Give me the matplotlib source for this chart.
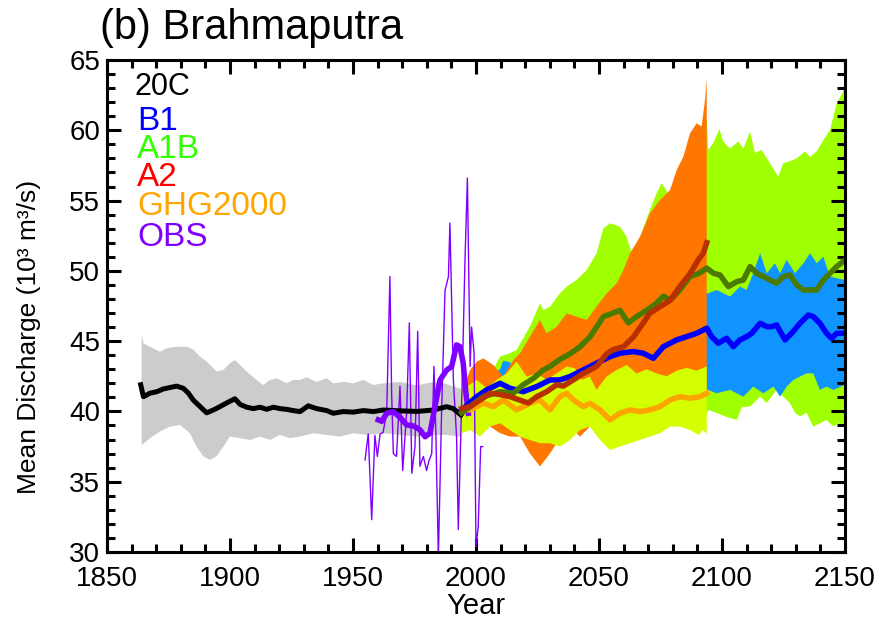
import numpy as np
import matplotlib.pyplot as plt
from matplotlib.ticker import MultipleLocator

plt.rcParams['font.family'] = ['Liberation Sans', 'DejaVu Sans']

# ---- 20C model ensemble ----
c20_years = [1863.7, 1864.8, 1867.5, 1870.2, 1872.9, 1875.6, 1878.3, 1881.0, 1883.1, 1885.1,
             1887.8, 1890.5, 1893.2, 1896.0, 1898.6, 1902.0, 1904.1, 1906.8, 1909.5, 1912.2,
             1914.9, 1917.6, 1920.3, 1923.0, 1925.7, 1928.5, 1931.8, 1935.2, 1939.3, 1942.0,
             1946.1, 1950.1, 1954.2, 1958.3, 1962.3, 1968.0, 1975.9, 1982.7, 1988.1, 1990.8,
             1992.8, 1993.9]
c20_mean = [41.9, 41.05, 41.3, 41.4, 41.6, 41.7, 41.8, 41.65, 41.3, 40.8,
            40.35, 39.9, 40.1, 40.35, 40.6, 40.9, 40.5, 40.3, 40.2, 40.3,
            40.15, 40.3, 40.2, 40.15, 40.06, 39.99, 40.4, 40.2, 40.06, 39.87,
            39.99, 39.95, 40.06, 39.99, 40.1, 40.05, 40.0, 40.1, 40.34, 40.2,
            39.9, 39.75]
c20_hi_years = [1864.1, 1864.8, 1867.5, 1871.5, 1874.3, 1878.3, 1882.4, 1885.1, 1887.8, 1890.5,
                1894.6, 1897.3, 1900.0, 1902.0, 1904.1, 1906.8, 1910.8, 1913.5, 1916.3, 1919.0,
                1923.0, 1925.7, 1928.5, 1931.2, 1935.2, 1939.3, 1942.0, 1946.1, 1950.1, 1954.2,
                1958.3, 1962.3, 1969.1, 1975.9, 1982.7, 1988.1, 1993.9]
c20_hi = [45.44, 44.85, 44.6, 44.25, 44.5, 44.6, 44.6, 44.4, 43.9, 43.55,
          42.83, 42.95, 43.43, 43.66, 43.3, 42.83, 42.24, 41.88, 42.24, 42.36,
          42.0, 42.24, 42.24, 42.43, 42.1, 42.36, 42.0, 42.1, 42.0, 42.24,
          41.88, 42.0, 42.1, 41.85, 42.1, 41.95, 41.6]
c20_lo_years = [1864.1, 1867.5, 1871.5, 1875.6, 1879.7, 1883.7, 1886.4, 1889.2, 1891.9, 1894.6,
                1897.3, 1900.0, 1904.1, 1908.1, 1912.2, 1916.3, 1920.3, 1924.4, 1928.5, 1933.9,
                1939.3, 1944.7, 1950.1, 1955.5, 1962.3, 1969.1, 1975.9, 1982.7, 1988.1, 1993.9]
c20_lo = [37.6, 38.1, 38.57, 38.92, 39.04, 38.45, 37.5, 36.8, 36.55, 36.8,
          37.5, 38.21, 38.1, 37.97, 38.21, 37.97, 38.33, 38.1, 38.21, 38.45,
          38.33, 38.21, 38.45, 38.33, 38.45, 38.33, 38.2, 38.33, 38.33, 38.2]

# ---- observations ----
obs_years = [1954.9, 1956.2, 1957.6, 1958.9, 1959.9, 1961.0, 1962.2, 1963.7, 1965.0, 1965.7,
             1966.4, 1967.7, 1969.1, 1970.2, 1971.8, 1972.9, 1973.9, 1975.2, 1976.3, 1977.2,
             1978.6, 1979.9, 1980.9, 1982.0, 1982.9, 1983.7, 1984.7, 1986.0, 1987.4, 1988.1,
             1988.8, 1989.4, 1990.8, 1992.1, 1992.8, 1994.2, 1995.5, 1996.5, 1997.6, 1998.2,
             1999.2, 2000.0, 2000.9, 2001.9, 2002.7]
obs_annual = [36.55, 38.4, 32.3, 38.3, 36.8, 38.4, 38.5, 39.9, 49.6, 41.3,
              37.0, 36.8, 41.8, 35.8, 39.9, 46.3, 35.6, 37.5, 45.7, 36.1,
              36.8, 35.8, 36.5, 37.0, 43.2, 38.4, 29.6, 39.9, 48.6, 49.1,
              49.6, 53.4, 42.2, 38.2, 31.6, 40.8, 50.6, 56.6, 43.2, 46.0,
              44.2, 30.4, 31.8, 37.5, 37.5]
obs_smooth_years = [1960.3, 1961.7, 1963.7, 1966.4, 1969.1, 1971.8, 1974.5, 1977.2, 1979.3, 1981.3,
                    1983.3, 1985.4, 1988.1, 1990.1, 1992.1, 1993.5, 1994.8, 1995.9, 1996.9]
obs_smooth = [39.4, 39.3, 39.87, 39.99, 39.58, 39.04, 38.97, 38.7, 38.2, 38.45,
              40.34, 42.24, 42.95, 43.19, 44.73, 44.61, 43.43, 41.3, 39.87]

# ---- scenario means ----
a2_years = [1994.2, 1997.6, 2001.6, 2005.7, 2009.8, 2013.8, 2017.9, 2021.3, 2024.7, 2028.7,
            2032.8, 2035.5, 2039.6, 2043.6, 2049.0, 2053.1, 2055.8, 2059.9, 2064.0, 2068.0,
            2070.7, 2074.8, 2078.9, 2082.9, 2087.0, 2090.4, 2092.4, 2093.8]
a2_mean = [40.2, 40.35, 40.8, 41.3, 41.2, 41.05, 40.8, 40.6, 41.05, 41.4,
           41.9, 41.8, 42.25, 42.7, 43.2, 44.1, 44.4, 44.6, 45.3, 46.3,
           47.0, 47.45, 47.9, 48.9, 49.8, 50.8, 51.25, 52.0]

a1b_years = [1994.2, 1997.6, 2003.0, 2009.8, 2015.2, 2019.2, 2023.3, 2027.4, 2030.1, 2034.1,
             2038.2, 2042.3, 2046.3, 2049.0, 2051.8, 2055.8, 2058.5, 2061.9, 2065.3, 2069.4,
             2073.4, 2076.2, 2078.9, 2082.9, 2087.0, 2090.4, 2093.8, 2096.5, 2099.2, 2102.6,
             2106.0, 2108.7, 2111.4, 2114.1, 2116.8, 2119.5, 2122.2, 2124.9, 2127.6, 2130.4,
             2133.1, 2135.8, 2138.5, 2141.2, 2143.9, 2146.6, 2150.0]
a1b_mean = [39.9, 40.35, 41.05, 41.4, 41.3, 41.9, 42.35, 42.95, 43.2, 43.7,
            44.1, 44.6, 45.3, 46.0, 46.75, 47.0, 47.2, 46.3, 46.75, 47.2,
            47.7, 48.2, 47.9, 48.65, 49.6, 49.8, 50.2, 49.83, 49.7, 48.88,
            49.23, 49.35, 50.3, 49.83, 49.59, 49.35, 49.12, 49.59, 49.71, 49.0,
            48.64, 48.64, 48.64, 49.35, 49.83, 50.3, 50.78]

b1_years = [1994.2, 2000.3, 2004.3, 2009.8, 2013.8, 2019.2, 2024.7, 2030.1, 2034.1, 2038.2,
            2043.6, 2049.0, 2054.5, 2058.5, 2064.0, 2068.0, 2072.1, 2076.2, 2081.6, 2085.6,
            2089.7, 2093.8, 2095.8, 2098.5, 2101.9, 2104.6, 2107.3, 2110.0, 2112.1, 2115.5,
            2118.2, 2120.2, 2122.2, 2125.6, 2128.3, 2131.7, 2135.1, 2137.1, 2139.8, 2142.5,
            2144.6, 2146.6, 2150.0]
b1_mean = [40.11, 41.05, 41.53, 42.0, 41.65, 41.41, 41.77, 42.24, 42.24, 42.48,
           42.95, 43.43, 43.9, 44.14, 44.26, 44.14, 43.78, 44.61, 45.09, 45.32,
           45.56, 45.92, 45.32, 44.85, 45.2, 44.61, 45.09, 45.32, 45.56, 46.27,
           46.03, 46.03, 46.15, 45.09, 45.56, 46.27, 46.86, 46.74, 46.27, 45.56,
           45.2, 45.56, 45.56]

ghg_years = [1994.2, 1997.6, 2003.0, 2007.0, 2011.1, 2016.5, 2021.9, 2026.0, 2030.1, 2034.1,
             2036.9, 2039.6, 2043.6, 2046.3, 2050.4, 2054.5, 2058.5, 2062.6, 2066.7, 2070.7,
             2074.8, 2078.9, 2082.9, 2087.0, 2091.1, 2093.8]
ghg_mean = [40.11, 40.11, 40.58, 40.34, 40.82, 40.11, 40.58, 40.82, 40.11, 41.05,
            41.29, 40.82, 40.34, 40.58, 40.11, 39.4, 39.87, 40.11, 39.99, 40.11,
            40.34, 40.82, 41.05, 40.94, 41.05, 41.3]

# ---- scenario spreads ----
a1b_hi_years = [1994.2, 1997.6, 2000.3, 2003.0, 2007.0, 2009.8, 2013.8, 2016.5, 2021.9, 2026.0,
                2027.4, 2030.1, 2034.1, 2036.9, 2040.9, 2045.0, 2049.0, 2051.8, 2054.5, 2058.5,
                2061.2, 2063.3, 2066.7, 2070.7, 2073.4, 2075.5, 2078.9, 2081.6, 2084.3, 2087.0,
                2089.7, 2093.1, 2093.8, 2094.4, 2096.5, 2098.9, 2100.5, 2103.3, 2106.6, 2108.7,
                2111.4, 2113.4, 2116.1, 2119.5, 2122.9, 2124.9, 2127.6, 2130.4, 2133.7, 2135.8,
                2138.5, 2141.2, 2143.9, 2146.6, 2150.0]
a1b_hi = [41.0, 42.0, 42.5, 42.8, 43.0, 43.9, 44.14, 44.37, 46.03, 47.69,
          47.2, 47.46, 48.4, 48.88, 49.35, 50.06, 51.25, 53.03, 53.38, 53.15,
          52.43, 51.25, 52.43, 54.33, 55.52, 56.23, 55.28, 55.99, 57.18, 57.89,
          59.31, 60.73, 60.8, 58.6, 59.1, 60.1, 59.2, 58.7, 59.2, 58.7,
          59.9, 58.4, 58.6, 57.65, 56.7, 57.65, 57.8, 58.0, 58.5, 58.1,
          58.5, 59.3, 60.0, 61.9, 63.0]
a1b_lo_years = [1994.2, 2020.0, 2050.0, 2093.8, 2094.4, 2097.8, 2101.9, 2106.0, 2108.0, 2111.4,
                2115.5, 2118.2, 2122.2, 2124.9, 2127.6, 2129.7, 2131.7, 2134.4, 2137.1, 2139.8,
                2142.5, 2145.3, 2147.3, 2150.0]
a1b_lo = [39.5, 39.5, 39.5, 39.8, 40.1, 39.9, 39.6, 39.4, 40.3, 40.35,
          41.05, 40.6, 41.53, 41.05, 40.6, 39.9, 39.65, 39.9, 38.92, 39.16,
          39.4, 38.92, 39.16, 38.92]

b1_hi_years = [1994.2, 2000.3, 2005.7, 2009.8, 2011.1, 2013.8, 2016.5, 2021.9, 2030.0, 2040.0,
               2050.0, 2060.0, 2070.0, 2080.0, 2093.8, 2094.4, 2097.8, 2103.3, 2107.3, 2110.0,
               2112.7, 2115.5, 2118.2, 2121.5, 2123.6, 2126.3, 2129.7, 2133.1, 2135.8, 2138.5,
               2141.2, 2143.9, 2150.0]
b1_hi = [41.3, 42.0, 42.5, 43.0, 43.6, 43.5, 42.8, 43.5, 44.5, 45.5,
         46.5, 47.0, 47.5, 48.0, 48.4, 48.4, 48.64, 48.17, 48.88, 48.64,
         49.83, 51.25, 49.83, 50.54, 49.83, 50.78, 49.83, 50.54, 51.25, 50.54,
         51.0, 49.59, 49.35]
b1_lo_years = [1994.2, 2020.0, 2050.0, 2093.8, 2094.4, 2097.8, 2103.3, 2108.7, 2112.7, 2116.8,
               2120.9, 2123.6, 2126.3, 2129.0, 2131.7, 2134.4, 2137.1, 2139.8, 2142.5, 2145.3,
               2150.0]
b1_lo = [40.0, 40.0, 40.5, 41.0, 41.53, 41.29, 41.53, 41.05, 41.77, 41.29,
         41.77, 41.05, 41.77, 42.24, 42.48, 42.71, 42.71, 41.53, 41.77, 41.53,
         41.9]

a2_hi_years = [1994.2, 1997.6, 2000.3, 2003.0, 2007.0, 2011.1, 2015.2, 2017.9, 2021.9, 2026.0,
               2028.7, 2032.8, 2036.9, 2040.9, 2045.0, 2049.0, 2053.1, 2057.2, 2059.9, 2062.6,
               2066.7, 2070.7, 2074.8, 2078.9, 2081.6, 2084.3, 2087.0, 2089.7, 2091.7, 2093.1,
               2093.8]
a2_hi = [41.29, 42.95, 43.54, 43.78, 43.31, 42.48, 43.66, 44.14, 45.32, 46.51,
         45.56, 46.03, 46.98, 46.74, 46.51, 47.46, 48.4, 49.12, 50.06, 51.25,
         52.43, 54.09, 55.04, 55.75, 57.18, 58.12, 59.78, 60.5, 60.26, 62.16,
         63.7]
a2_lo_years = [1994.2, 1997.6, 2001.6, 2005.7, 2009.8, 2013.8, 2017.9, 2021.9, 2026.0, 2030.1,
               2032.8, 2036.9, 2039.6, 2042.3, 2046.3, 2050.4, 2058.5, 2066.7, 2074.8, 2082.9,
               2093.8]
a2_lo = [39.4, 38.92, 39.4, 38.92, 38.45, 38.21, 38.21, 37.02, 36.08, 37.02,
         37.74, 37.97, 38.68, 38.21, 38.92, 40.0, 40.3, 40.5, 41.0, 41.3,
         41.5]

ghg_hi_years = [1994.2, 2000.3, 2004.3, 2008.4, 2012.5, 2016.5, 2020.6, 2024.7, 2028.7, 2032.8,
                2036.9, 2040.2, 2043.0, 2046.3, 2049.0, 2053.1, 2057.2, 2061.2, 2065.3, 2069.4,
                2073.4, 2077.5, 2081.6, 2085.6, 2089.7, 2093.8]
ghg_hi = [41.53, 42.24, 41.65, 42.24, 42.71, 43.54, 42.48, 42.71, 42.24, 42.71,
          43.19, 43.07, 42.24, 42.48, 41.53, 42.48, 42.95, 43.3, 42.7, 43.0,
          42.7, 42.5, 42.9, 43.1, 42.9, 43.2]
ghg_lo_years = [1994.2, 1997.6, 2001.6, 2005.7, 2009.8, 2013.8, 2017.9, 2021.9, 2026.0, 2030.1,
                2034.1, 2038.2, 2042.3, 2046.3, 2050.4, 2054.5, 2058.5, 2062.6, 2066.7, 2070.7,
                2074.8, 2078.9, 2082.9, 2087.0, 2090.4, 2092.4, 2093.8]
ghg_lo = [38.45, 38.68, 38.21, 38.92, 39.16, 38.68, 38.21, 37.97, 37.74, 37.74,
          37.5, 37.97, 38.68, 38.92, 37.97, 37.26, 37.5, 37.74, 37.97, 38.21,
          38.45, 38.92, 38.92, 38.68, 38.33, 38.68, 38.4]

legend_labels = ['20C', 'B1', 'A1B', 'A2', 'GHG2000', 'OBS']
legend_colors = ['black', '#0000ff', '#33ff00', '#ff0000', '#ffa500', '#8000ff']


def band(ax, x_hi, y_hi, x_lo, y_lo, color):
    # polygon from the upper edge and the reversed lower edge
    x = np.concatenate([x_hi, x_lo[::-1]])
    y = np.concatenate([y_hi, y_lo[::-1]])
    ax.fill(x, y, color=color, lw=0)


fig = plt.figure(figsize=(8.77, 6.21), dpi=100)
ax = fig.add_axes([107 / 877, 1 - 552 / 621, 738 / 877, 492 / 621])

band(ax, c20_hi_years, c20_hi, c20_lo_years, c20_lo, '#cccccc')
band(ax, a1b_hi_years, a1b_hi, a1b_lo_years, a1b_lo, '#a0ff00')
band(ax, b1_hi_years, b1_hi, b1_lo_years, b1_lo, '#1094ff')
band(ax, a2_hi_years, a2_hi, a2_lo_years, a2_lo, '#ff7700')
band(ax, ghg_hi_years, ghg_hi, ghg_lo_years, ghg_lo, '#d4ff00')

ax.plot(obs_years, obs_annual, color='#8000ff', lw=1)
ax.plot(c20_years, c20_mean, color='black', lw=3.6)
ax.plot(obs_smooth_years, obs_smooth, color='#8000ff', lw=4)
ax.plot(ghg_years, ghg_mean, color='#ffa500', lw=4)
ax.plot(b1_years, b1_mean, color='#0000ff', lw=4)
ax.plot(a1b_years, a1b_mean, color='#4a7a00', lw=4)
ax.plot(a2_years, a2_mean, color='#b83000', lw=4)

ax.set_xlim(1850, 2150)
ax.set_ylim(30, 65)
ax.set_xticks(range(1850, 2151, 50))
ax.set_yticks(range(30, 66, 5))
ax.xaxis.set_minor_locator(MultipleLocator(10))
ax.yaxis.set_minor_locator(MultipleLocator(1))
ax.tick_params(which='both', direction='in', top=True, right=True, width=2.2, labelsize=20)
ax.tick_params(which='major', length=10)
ax.tick_params(which='minor', length=5.5)
ax.tick_params(axis='x', pad=10)
ax.tick_params(axis='y', pad=5)
for s in ax.spines.values():
    s.set_linewidth(2.2)

fig.text(476 / 877, 1 - 614 / 621, 'Year', ha='center', va='baseline', fontsize=21)
fig.text(29 / 877, 1 - 337 / 621, 'Mean Discharge (10³ m³/s)', rotation=90,
         ha='center', va='center', fontsize=19)
fig.text(100 / 877, 1 - 39 / 621, '(b) Brahmaputra', ha='left', va='baseline', fontsize=30)

legend_y = [87, 122, 150, 178, 207, 238]
legend_size = [22, 24, 24, 24, 24, 24]
for i, (lab, col) in enumerate(zip(legend_labels, legend_colors)):
    x0 = 134 if i == 0 else 137
    fig.text(x0 / 877, 1 - legend_y[i] / 621, lab, color=col, ha='left', va='center',
             fontsize=legend_size[i])

fig.savefig('out.png', dpi=100)
